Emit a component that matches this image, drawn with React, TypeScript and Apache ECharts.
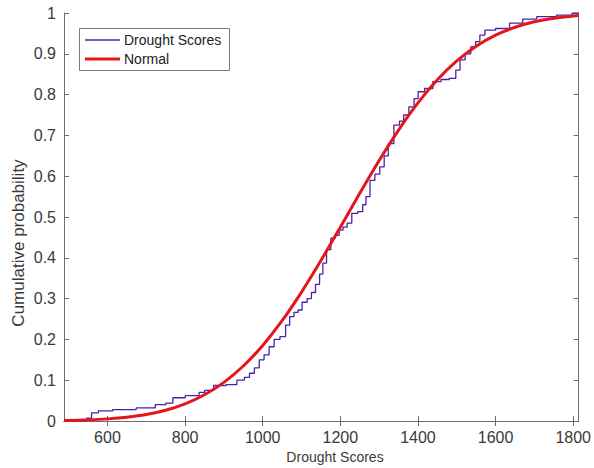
import React, { useEffect, useRef } from "react";
import * as echarts from "echarts";

// Empirical CDF breakpoints (drought score, cumulative probability)
const ecdfScores = [488, 540, 552, 566, 587, 640, 708, 738, 763, 774, 827, 845, 856, 891, 921, 946, 960, 972, 985, 997, 1010, 1023, 1036, 1053, 1065, 1074, 1087, 1095, 1108, 1121, 1130, 1142, 1151, 1159, 1170, 1181, 1192, 1202, 1212, 1223, 1236, 1253, 1262, 1270, 1283, 1295, 1308, 1318, 1329, 1347, 1358, 1368, 1385, 1395, 1406, 1428, 1449, 1470, 1491, 1504, 1513, 1530, 1542, 1555, 1564, 1581, 1619, 1653, 1687, 1725, 1789, 1806, 1814];
const ecdfProbs = [0, 0, 0.007, 0.02, 0.025, 0.028, 0.032, 0.04, 0.044, 0.057, 0.062, 0.07, 0.075, 0.087, 0.089, 0.1, 0.107, 0.117, 0.13, 0.15, 0.162, 0.182, 0.2, 0.207, 0.235, 0.256, 0.266, 0.272, 0.291, 0.3, 0.315, 0.335, 0.36, 0.387, 0.42, 0.448, 0.455, 0.468, 0.475, 0.485, 0.509, 0.513, 0.53, 0.55, 0.59, 0.605, 0.623, 0.65, 0.68, 0.725, 0.735, 0.75, 0.77, 0.79, 0.807, 0.815, 0.832, 0.837, 0.84, 0.86, 0.885, 0.9, 0.917, 0.93, 0.946, 0.958, 0.962, 0.975, 0.985, 0.991, 0.995, 1.0, 1.0];

// Fitted normal CDF
const normalScores = [488, 500, 550, 600, 650, 700, 750, 800, 850, 900, 950, 1000, 1050, 1100, 1150, 1200, 1250, 1300, 1350, 1400, 1450, 1500, 1550, 1600, 1650, 1700, 1750, 1800, 1814];
const normalProbs = [0.0012, 0.0014, 0.0028, 0.0052, 0.0093, 0.0159, 0.0263, 0.0419, 0.0642, 0.0947, 0.1348, 0.1852, 0.2459, 0.316, 0.3933, 0.4751, 0.558, 0.6384, 0.7131, 0.7796, 0.8362, 0.8825, 0.9186, 0.9457, 0.965, 0.9784, 0.9871, 0.9926, 0.9937];

const xTicks = [600, 800, 1000, 1200, 1400, 1600, 1800];
const seriesNames = ["Drought Scores", "Normal"];
const xLabel = "Drought Scores";
const yLabel = "Cumulative probability";

const FONT = "'Liberation Sans', Arial, sans-serif";
const AXIS = "#6e6e6e";
const TEXT = "#3a3a3a";
const PURPLE = "#4b22a6";
const RED = "#e5161b";

export default function App() {
  const ref = useRef<HTMLDivElement>(null);
  useEffect(() => {
    if (!ref.current) return;
    const chart = echarts.init(ref.current, null, { renderer: "svg" });
    const commonX = {
      type: "value" as const,
      min: 488,
      max: 1814,
      splitLine: { show: false },
      axisLine: { show: true, lineStyle: { color: AXIS, width: 1 } },
    };
    const commonY = {
      type: "value" as const,
      min: 0,
      max: 1,
      interval: 0.1,
      splitLine: { show: false },
      axisLine: { show: true, lineStyle: { color: AXIS, width: 1 } },
      axisTick: { show: true, inside: true, length: 5, lineStyle: { color: AXIS } },
    };
    chart.setOption({
      animation: false,
      grid: { left: 64, right: 11, top: 13, bottom: 47, containLabel: false },
      xAxis: [
        {
          ...commonX,
          position: "bottom",
          axisTick: { show: true, inside: true, length: 5, lineStyle: { color: AXIS }, customValues: xTicks },
          axisLabel: {
            show: true,
            customValues: xTicks,
            color: TEXT,
            fontSize: 16,
            fontFamily: FONT,
            margin: 8,
            formatter: (v: number) => String(v),
          },
        },
        {
          ...commonX,
          position: "top",
          axisTick: { show: true, inside: true, length: 5, lineStyle: { color: AXIS }, customValues: xTicks },
          axisLabel: { show: false },
        },
      ],
      yAxis: [
        {
          ...commonY,
          position: "left",
          axisLabel: {
            show: true,
            color: TEXT,
            fontSize: 16,
            fontFamily: FONT,
            margin: 8,
            formatter: (v: number) => String(Math.round(v * 10) / 10),
          },
        },
        {
          ...commonY,
          position: "right",
          axisLabel: { show: false },
        },
      ],
      series: [
        {
          name: seriesNames[0],
          type: "line",
          step: "middle",
          showSymbol: false,
          symbol: "none",
          data: ecdfScores.map((x, i) => [x, ecdfProbs[i]]),
          lineStyle: { color: PURPLE, width: 1.3 },
          z: 2,
        },
        {
          name: seriesNames[1],
          type: "line",
          smooth: 0.3,
          showSymbol: false,
          symbol: "none",
          data: normalScores.map((x, i) => [x, normalProbs[i]]),
          lineStyle: { color: RED, width: 3 },
          z: 3,
        },
      ],
      graphic: [
        {
          type: "text",
          x: 18,
          y: 243,
          rotation: Math.PI / 2,
          style: { text: yLabel, fill: TEXT, font: `17px ${FONT}`, align: "center", verticalAlign: "middle" },
        },
        {
          type: "text",
          x: 335,
          y: 457,
          style: { text: xLabel, fill: TEXT, font: `14px ${FONT}`, align: "center", verticalAlign: "middle" },
        },
        {
          type: "rect",
          shape: { x: 79.5, y: 28.5, width: 150, height: 42 },
          style: { fill: "#ffffff", stroke: "#7a7a7a", lineWidth: 1 },
          z: 10,
        },
        {
          type: "line",
          shape: { x1: 85, y1: 40, x2: 120, y2: 40 },
          style: { stroke: PURPLE, lineWidth: 1.3 },
          z: 11,
        },
        {
          type: "line",
          shape: { x1: 85, y1: 59, x2: 120, y2: 59 },
          style: { stroke: RED, lineWidth: 3 },
          z: 11,
        },
        {
          type: "text",
          x: 124,
          y: 40,
          style: { text: seriesNames[0], fill: "#222", font: `14px ${FONT}`, align: "left", verticalAlign: "middle" },
          z: 11,
        },
        {
          type: "text",
          x: 124,
          y: 59,
          style: { text: seriesNames[1], fill: "#222", font: `14px ${FONT}`, align: "left", verticalAlign: "middle" },
          z: 11,
        },
      ],
    });
    return () => chart.dispose();
  }, []);
  return <div ref={ref} style={{ width: 594, height: 468, position: "absolute", left: 0, top: 0, background: "#fff" }} />;
}
